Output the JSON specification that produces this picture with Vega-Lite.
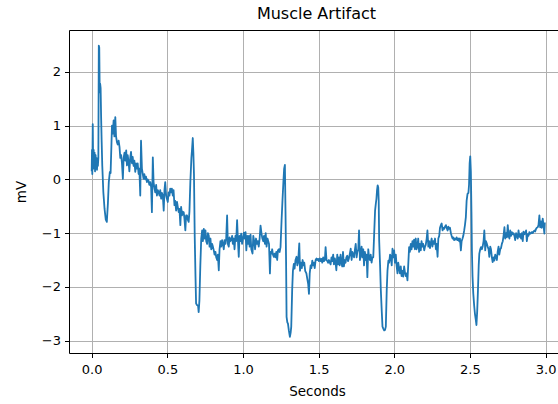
{
  "$schema": "https://vega.github.io/schema/vega-lite/v6.json",
  "autosize": {"type": "none"},
  "padding": {"left": 69, "top": 30, "right": 0, "bottom": 51},
  "width": 489,
  "height": 323,
  "background": "white",
  "title": {"text": "Muscle Artifact", "font": "DejaVu Sans", "fontSize": 16, "fontWeight": "normal", "color": "black", "offset": 8, "dx": 3},
  "config": {
    "view": {"stroke": null},
    "axis": {"labelFont": "DejaVu Sans", "labelFontSize": 13, "labelColor": "black", "titleFont": "DejaVu Sans", "titleFontSize": 13.5, "titleFontWeight": "normal", "titleColor": "black", "tickColor": "black", "tickSize": 4.5, "tickWidth": 1, "domainColor": "black", "domainWidth": 1, "gridColor": "#b0b0b0", "gridWidth": 1, "labelPadding": 4}
  },
  "data": {"values": [
{"t":0.000,"v":0.15},{"t":0.002,"v":0.55},{"t":0.004,"v":0.10},{"t":0.007,"v":1.03},{"t":0.010,"v":0.20},{"t":0.013,"v":0.55},{"t":0.016,"v":0.25},{"t":0.019,"v":0.50},{"t":0.022,"v":0.15},{"t":0.026,"v":0.45},{"t":0.029,"v":0.20},{"t":0.032,"v":0.40},{"t":0.035,"v":0.18},{"t":0.038,"v":0.35},{"t":0.041,"v":0.25},{"t":0.044,"v":0.40},{"t":0.047,"v":2.49},{"t":0.050,"v":2.45},{"t":0.053,"v":1.62},{"t":0.056,"v":1.78},{"t":0.059,"v":1.70},{"t":0.062,"v":1.20},{"t":0.066,"v":0.69},{"t":0.070,"v":0.25},{"t":0.077,"v":-0.24},{"t":0.085,"v":-0.55},{"t":0.093,"v":-0.75},{"t":0.100,"v":-0.79},{"t":0.107,"v":-0.45},{"t":0.113,"v":-0.05},{"t":0.120,"v":0.14},{"t":0.125,"v":0.12},{"t":0.130,"v":0.60},{"t":0.134,"v":1.00},{"t":0.139,"v":0.85},{"t":0.145,"v":1.10},{"t":0.150,"v":0.80},{"t":0.156,"v":1.16},{"t":0.161,"v":0.80},{"t":0.167,"v":0.69},{"t":0.172,"v":0.65},{"t":0.178,"v":0.72},{"t":0.184,"v":0.60},{"t":0.189,"v":0.40},{"t":0.195,"v":0.45},{"t":0.200,"v":0.30},{"t":0.206,"v":0.01},{"t":0.211,"v":0.40},{"t":0.217,"v":0.50},{"t":0.222,"v":0.35},{"t":0.228,"v":0.54},{"t":0.233,"v":0.26},{"t":0.238,"v":0.45},{"t":0.244,"v":0.32},{"t":0.249,"v":0.15},{"t":0.255,"v":0.41},{"t":0.260,"v":0.51},{"t":0.266,"v":0.30},{"t":0.271,"v":0.42},{"t":0.277,"v":0.25},{"t":0.282,"v":0.35},{"t":0.288,"v":0.14},{"t":0.293,"v":0.30},{"t":0.299,"v":0.20},{"t":0.304,"v":0.30},{"t":0.310,"v":0.10},{"t":0.315,"v":0.20},{"t":0.321,"v":-0.30},{"t":0.326,"v":0.72},{"t":0.332,"v":0.20},{"t":0.337,"v":0.11},{"t":0.343,"v":0.01},{"t":0.348,"v":0.10},{"t":0.354,"v":0.00},{"t":0.359,"v":0.05},{"t":0.365,"v":-0.05},{"t":0.370,"v":0.00},{"t":0.376,"v":-0.03},{"t":0.381,"v":-0.10},{"t":0.387,"v":-0.05},{"t":0.393,"v":-0.15},{"t":0.398,"v":-0.61},{"t":0.404,"v":0.41},{"t":0.409,"v":-0.05},{"t":0.415,"v":-0.17},{"t":0.420,"v":-0.24},{"t":0.426,"v":-0.10},{"t":0.431,"v":-0.30},{"t":0.437,"v":-0.20},{"t":0.442,"v":-0.24},{"t":0.448,"v":-0.30},{"t":0.453,"v":-0.20},{"t":0.459,"v":-0.36},{"t":0.464,"v":-0.25},{"t":0.470,"v":-0.30},{"t":0.476,"v":-0.58},{"t":0.481,"v":-0.20},{"t":0.486,"v":-0.05},{"t":0.492,"v":-0.30},{"t":0.497,"v":-0.36},{"t":0.503,"v":-0.42},{"t":0.508,"v":-0.24},{"t":0.514,"v":-0.30},{"t":0.519,"v":-0.17},{"t":0.525,"v":-0.24},{"t":0.530,"v":-0.17},{"t":0.536,"v":-0.30},{"t":0.541,"v":-0.20},{"t":0.547,"v":-0.48},{"t":0.552,"v":-0.40},{"t":0.558,"v":-0.58},{"t":0.564,"v":-0.42},{"t":0.569,"v":-0.51},{"t":0.575,"v":-0.61},{"t":0.580,"v":-0.55},{"t":0.586,"v":-0.85},{"t":0.591,"v":-0.51},{"t":0.597,"v":-0.67},{"t":0.602,"v":-0.60},{"t":0.608,"v":-0.61},{"t":0.613,"v":-0.73},{"t":0.619,"v":-0.95},{"t":0.624,"v":-0.67},{"t":0.630,"v":-0.67},{"t":0.635,"v":-0.75},{"t":0.641,"v":-0.79},{"t":0.646,"v":-0.60},{"t":0.652,"v":-0.05},{"t":0.659,"v":0.40},{"t":0.663,"v":0.55},{"t":0.668,"v":0.77},{"t":0.672,"v":0.50},{"t":0.676,"v":0.10},{"t":0.681,"v":-1.07},{"t":0.686,"v":-1.80},{"t":0.690,"v":-2.31},{"t":0.697,"v":-2.34},{"t":0.703,"v":-2.35},{"t":0.707,"v":-2.47},{"t":0.712,"v":-2.25},{"t":0.718,"v":-1.60},{"t":0.724,"v":-1.10},{"t":0.730,"v":-0.95},{"t":0.735,"v":-1.15},{"t":0.741,"v":-0.92},{"t":0.746,"v":-1.10},{"t":0.752,"v":-0.95},{"t":0.757,"v":-1.15},{"t":0.763,"v":-1.20},{"t":0.768,"v":-1.00},{"t":0.774,"v":-1.05},{"t":0.779,"v":-1.25},{"t":0.785,"v":-1.10},{"t":0.790,"v":-1.30},{"t":0.796,"v":-1.20},{"t":0.801,"v":-1.25},{"t":0.807,"v":-1.32},{"t":0.812,"v":-1.40},{"t":0.818,"v":-1.35},{"t":0.823,"v":-1.45},{"t":0.829,"v":-1.50},{"t":0.834,"v":-1.40},{"t":0.840,"v":-1.69},{"t":0.845,"v":-1.30},{"t":0.851,"v":-1.15},{"t":0.856,"v":-1.25},{"t":0.862,"v":-1.13},{"t":0.867,"v":-1.20},{"t":0.873,"v":-1.30},{"t":0.878,"v":-1.13},{"t":0.884,"v":-1.20},{"t":0.889,"v":-1.10},{"t":0.895,"v":-0.67},{"t":0.900,"v":-1.20},{"t":0.906,"v":-1.25},{"t":0.911,"v":-1.08},{"t":0.917,"v":-1.15},{"t":0.922,"v":-1.12},{"t":0.928,"v":-1.05},{"t":0.933,"v":-1.20},{"t":0.939,"v":-1.10},{"t":0.944,"v":-1.30},{"t":0.950,"v":-1.05},{"t":0.955,"v":-1.15},{"t":0.961,"v":-0.76},{"t":0.966,"v":-1.10},{"t":0.972,"v":-1.44},{"t":0.977,"v":-1.05},{"t":0.983,"v":-1.15},{"t":0.988,"v":-1.01},{"t":0.994,"v":-1.20},{"t":1.000,"v":-1.10},{"t":1.006,"v":-0.99},{"t":1.011,"v":-1.10},{"t":1.017,"v":-0.98},{"t":1.022,"v":-1.32},{"t":1.028,"v":-1.05},{"t":1.033,"v":-1.20},{"t":1.039,"v":-1.05},{"t":1.044,"v":-1.25},{"t":1.050,"v":-1.03},{"t":1.055,"v":-1.30},{"t":1.063,"v":-1.38},{"t":1.068,"v":-1.05},{"t":1.074,"v":-1.15},{"t":1.080,"v":-1.30},{"t":1.086,"v":-1.10},{"t":1.092,"v":-1.20},{"t":1.098,"v":-1.15},{"t":1.104,"v":-1.25},{"t":1.110,"v":-1.10},{"t":1.116,"v":-0.86},{"t":1.122,"v":-1.00},{"t":1.128,"v":-1.10},{"t":1.134,"v":-1.15},{"t":1.139,"v":-1.05},{"t":1.145,"v":-1.20},{"t":1.150,"v":-1.00},{"t":1.156,"v":-1.25},{"t":1.162,"v":-1.10},{"t":1.167,"v":-1.15},{"t":1.172,"v":-1.20},{"t":1.178,"v":-1.75},{"t":1.183,"v":-1.35},{"t":1.188,"v":-1.38},{"t":1.193,"v":-1.30},{"t":1.198,"v":-1.40},{"t":1.204,"v":-1.44},{"t":1.209,"v":-1.38},{"t":1.215,"v":-1.45},{"t":1.220,"v":-1.35},{"t":1.226,"v":-1.50},{"t":1.231,"v":-1.32},{"t":1.237,"v":-1.30},{"t":1.242,"v":-1.35},{"t":1.248,"v":-1.26},{"t":1.255,"v":-0.76},{"t":1.261,"v":-0.39},{"t":1.267,"v":-0.05},{"t":1.272,"v":0.20},{"t":1.277,"v":0.27},{"t":1.281,"v":-0.60},{"t":1.285,"v":-1.60},{"t":1.288,"v":-2.56},{"t":1.293,"v":-2.66},{"t":1.297,"v":-2.68},{"t":1.303,"v":-2.81},{"t":1.310,"v":-2.93},{"t":1.315,"v":-2.85},{"t":1.319,"v":-2.74},{"t":1.325,"v":-2.06},{"t":1.330,"v":-1.70},{"t":1.336,"v":-1.57},{"t":1.341,"v":-1.66},{"t":1.347,"v":-1.50},{"t":1.354,"v":-1.44},{"t":1.359,"v":-1.60},{"t":1.364,"v":-1.55},{"t":1.372,"v":-1.19},{"t":1.377,"v":-1.70},{"t":1.383,"v":-1.55},{"t":1.389,"v":-1.65},{"t":1.394,"v":-1.50},{"t":1.400,"v":-1.60},{"t":1.405,"v":-1.55},{"t":1.411,"v":-1.70},{"t":1.419,"v":-1.75},{"t":1.425,"v":-1.85},{"t":1.431,"v":-1.95},{"t":1.436,"v":-2.13},{"t":1.441,"v":-1.75},{"t":1.447,"v":-1.60},{"t":1.452,"v":-1.65},{"t":1.458,"v":-1.51},{"t":1.463,"v":-1.60},{"t":1.469,"v":-1.55},{"t":1.474,"v":-1.65},{"t":1.480,"v":-1.50},{"t":1.486,"v":-1.47},{"t":1.491,"v":-1.50},{"t":1.497,"v":-1.48},{"t":1.502,"v":-1.52},{"t":1.508,"v":-1.47},{"t":1.513,"v":-1.52},{"t":1.519,"v":-1.48},{"t":1.524,"v":-1.55},{"t":1.530,"v":-1.45},{"t":1.535,"v":-1.52},{"t":1.541,"v":-1.50},{"t":1.546,"v":-1.26},{"t":1.552,"v":-1.50},{"t":1.557,"v":-1.52},{"t":1.563,"v":-1.55},{"t":1.568,"v":-1.50},{"t":1.574,"v":-1.55},{"t":1.579,"v":-1.58},{"t":1.585,"v":-1.45},{"t":1.590,"v":-1.52},{"t":1.596,"v":-1.40},{"t":1.601,"v":-1.58},{"t":1.607,"v":-1.47},{"t":1.612,"v":-1.55},{"t":1.617,"v":-1.69},{"t":1.623,"v":-1.40},{"t":1.628,"v":-1.58},{"t":1.634,"v":-1.45},{"t":1.639,"v":-1.60},{"t":1.645,"v":-1.40},{"t":1.650,"v":-1.55},{"t":1.656,"v":-1.62},{"t":1.661,"v":-1.35},{"t":1.667,"v":-1.62},{"t":1.672,"v":-1.50},{"t":1.678,"v":-1.55},{"t":1.683,"v":-1.45},{"t":1.689,"v":-1.42},{"t":1.694,"v":-1.52},{"t":1.700,"v":-1.47},{"t":1.705,"v":-1.40},{"t":1.712,"v":-1.29},{"t":1.718,"v":-1.50},{"t":1.723,"v":-1.35},{"t":1.729,"v":-1.40},{"t":1.734,"v":-1.45},{"t":1.740,"v":-1.30},{"t":1.745,"v":-1.20},{"t":1.751,"v":-1.45},{"t":1.756,"v":-1.35},{"t":1.762,"v":-1.30},{"t":1.767,"v":-0.95},{"t":1.773,"v":-1.50},{"t":1.778,"v":-1.40},{"t":1.784,"v":-1.25},{"t":1.789,"v":-1.45},{"t":1.795,"v":-1.30},{"t":1.800,"v":-1.60},{"t":1.806,"v":-1.35},{"t":1.811,"v":-1.50},{"t":1.817,"v":-1.40},{"t":1.822,"v":-1.82},{"t":1.828,"v":-1.30},{"t":1.833,"v":-1.45},{"t":1.839,"v":-1.50},{"t":1.844,"v":-1.40},{"t":1.850,"v":-1.55},{"t":1.855,"v":-1.45},{"t":1.861,"v":-1.45},{"t":1.867,"v":-1.01},{"t":1.873,"v":-0.58},{"t":1.878,"v":-0.45},{"t":1.882,"v":-0.36},{"t":1.886,"v":-0.20},{"t":1.890,"v":-0.11},{"t":1.894,"v":-0.15},{"t":1.897,"v":-0.40},{"t":1.900,"v":-1.13},{"t":1.906,"v":-1.60},{"t":1.911,"v":-2.06},{"t":1.917,"v":-2.45},{"t":1.922,"v":-2.74},{"t":1.928,"v":-2.78},{"t":1.933,"v":-2.81},{"t":1.939,"v":-2.80},{"t":1.944,"v":-2.74},{"t":1.950,"v":-2.06},{"t":1.955,"v":-1.70},{"t":1.961,"v":-1.51},{"t":1.966,"v":-1.55},{"t":1.972,"v":-1.40},{"t":1.977,"v":-1.44},{"t":1.983,"v":-1.60},{"t":1.988,"v":-1.29},{"t":1.992,"v":-1.45},{"t":1.999,"v":-1.32},{"t":2.004,"v":-1.55},{"t":2.010,"v":-1.40},{"t":2.015,"v":-1.60},{"t":2.021,"v":-1.75},{"t":2.026,"v":-1.55},{"t":2.032,"v":-1.65},{"t":2.037,"v":-1.75},{"t":2.043,"v":-1.62},{"t":2.048,"v":-1.80},{"t":2.054,"v":-1.70},{"t":2.059,"v":-1.81},{"t":2.065,"v":-1.62},{"t":2.070,"v":-1.72},{"t":2.076,"v":-1.80},{"t":2.081,"v":-1.75},{"t":2.087,"v":-1.88},{"t":2.092,"v":-1.60},{"t":2.098,"v":-1.26},{"t":2.103,"v":-1.35},{"t":2.109,"v":-1.20},{"t":2.114,"v":-1.30},{"t":2.120,"v":-1.15},{"t":2.125,"v":-1.25},{"t":2.131,"v":-1.12},{"t":2.136,"v":-1.30},{"t":2.142,"v":-1.10},{"t":2.147,"v":-1.30},{"t":2.153,"v":-1.25},{"t":2.158,"v":-1.10},{"t":2.164,"v":-1.35},{"t":2.169,"v":-1.20},{"t":2.175,"v":-1.32},{"t":2.180,"v":-1.15},{"t":2.186,"v":-1.25},{"t":2.191,"v":-1.20},{"t":2.198,"v":-1.32},{"t":2.203,"v":-1.25},{"t":2.208,"v":-1.22},{"t":2.214,"v":-1.10},{"t":2.219,"v":-0.95},{"t":2.225,"v":-1.25},{"t":2.230,"v":-1.15},{"t":2.236,"v":-1.28},{"t":2.241,"v":-1.18},{"t":2.247,"v":-1.10},{"t":2.252,"v":-1.25},{"t":2.258,"v":-1.15},{"t":2.263,"v":-1.20},{"t":2.269,"v":-1.10},{"t":2.275,"v":-1.30},{"t":2.280,"v":-1.20},{"t":2.286,"v":-1.44},{"t":2.291,"v":-1.10},{"t":2.297,"v":-1.05},{"t":2.302,"v":-0.90},{"t":2.308,"v":-0.85},{"t":2.313,"v":-0.82},{"t":2.319,"v":-0.95},{"t":2.324,"v":-0.90},{"t":2.330,"v":-0.92},{"t":2.335,"v":-0.88},{"t":2.341,"v":-0.85},{"t":2.346,"v":-0.90},{"t":2.352,"v":-0.95},{"t":2.357,"v":-0.88},{"t":2.363,"v":-0.92},{"t":2.368,"v":-0.90},{"t":2.374,"v":-1.00},{"t":2.379,"v":-1.05},{"t":2.385,"v":-1.10},{"t":2.390,"v":-1.08},{"t":2.396,"v":-1.13},{"t":2.401,"v":-1.10},{"t":2.407,"v":-1.12},{"t":2.412,"v":-1.08},{"t":2.418,"v":-1.13},{"t":2.423,"v":-1.10},{"t":2.429,"v":-1.15},{"t":2.434,"v":-1.10},{"t":2.440,"v":-1.32},{"t":2.445,"v":-1.15},{"t":2.451,"v":-1.10},{"t":2.456,"v":-1.05},{"t":2.462,"v":-0.95},{"t":2.467,"v":-0.85},{"t":2.473,"v":-0.70},{"t":2.478,"v":-0.40},{"t":2.484,"v":-0.27},{"t":2.490,"v":-0.25},{"t":2.494,"v":-0.10},{"t":2.498,"v":0.30},{"t":2.502,"v":0.43},{"t":2.506,"v":0.15},{"t":2.510,"v":-0.60},{"t":2.513,"v":-1.32},{"t":2.517,"v":-1.80},{"t":2.522,"v":-2.12},{"t":2.528,"v":-2.35},{"t":2.533,"v":-2.50},{"t":2.538,"v":-2.60},{"t":2.543,"v":-2.71},{"t":2.548,"v":-2.45},{"t":2.553,"v":-2.06},{"t":2.558,"v":-1.60},{"t":2.562,"v":-1.38},{"t":2.568,"v":-1.30},{"t":2.573,"v":-1.26},{"t":2.579,"v":-1.30},{"t":2.584,"v":-1.25},{"t":2.590,"v":-1.15},{"t":2.595,"v":-0.95},{"t":2.601,"v":-1.32},{"t":2.606,"v":-1.15},{"t":2.612,"v":-1.20},{"t":2.617,"v":-1.25},{"t":2.623,"v":-1.30},{"t":2.628,"v":-1.44},{"t":2.634,"v":-1.25},{"t":2.639,"v":-1.30},{"t":2.645,"v":-1.45},{"t":2.650,"v":-1.54},{"t":2.656,"v":-1.45},{"t":2.661,"v":-1.51},{"t":2.667,"v":-1.40},{"t":2.672,"v":-1.44},{"t":2.678,"v":-1.50},{"t":2.683,"v":-1.35},{"t":2.689,"v":-1.25},{"t":2.694,"v":-1.40},{"t":2.700,"v":-1.30},{"t":2.705,"v":-1.28},{"t":2.711,"v":-1.20},{"t":2.717,"v":-1.15},{"t":2.722,"v":-1.05},{"t":2.728,"v":-0.89},{"t":2.733,"v":-1.10},{"t":2.739,"v":-1.00},{"t":2.744,"v":-1.08},{"t":2.750,"v":-0.85},{"t":2.755,"v":-1.05},{"t":2.761,"v":-1.10},{"t":2.766,"v":-0.95},{"t":2.772,"v":-1.05},{"t":2.777,"v":-0.98},{"t":2.783,"v":-1.02},{"t":2.788,"v":-1.00},{"t":2.794,"v":-1.05},{"t":2.799,"v":-1.13},{"t":2.805,"v":-1.00},{"t":2.810,"v":-1.05},{"t":2.816,"v":-1.10},{"t":2.821,"v":-0.95},{"t":2.827,"v":-1.07},{"t":2.832,"v":-1.02},{"t":2.838,"v":-1.10},{"t":2.843,"v":-1.00},{"t":2.849,"v":-1.15},{"t":2.854,"v":-0.97},{"t":2.860,"v":-1.02},{"t":2.865,"v":-1.00},{"t":2.871,"v":-0.95},{"t":2.876,"v":-1.15},{"t":2.882,"v":-1.02},{"t":2.887,"v":-1.05},{"t":2.893,"v":-0.98},{"t":2.898,"v":-1.01},{"t":2.904,"v":-1.00},{"t":2.909,"v":-0.98},{"t":2.915,"v":-1.00},{"t":2.920,"v":-0.97},{"t":2.926,"v":-0.95},{"t":2.931,"v":-0.97},{"t":2.937,"v":-0.92},{"t":2.942,"v":-0.90},{"t":2.948,"v":-0.89},{"t":2.953,"v":-0.85},{"t":2.959,"v":-0.67},{"t":2.964,"v":-0.89},{"t":2.970,"v":-0.78},{"t":2.975,"v":-0.90},{"t":2.981,"v":-0.73},{"t":2.986,"v":-0.85},{"t":2.992,"v":-1.01},{"t":2.995,"v":-0.80}
  ]},
  "layer": [
    {
      "mark": {"type": "line", "color": "#1f77b4", "strokeWidth": 1.8, "strokeJoin": "round"},
      "encoding": {
        "x": {"field": "t", "type": "quantitative", "scale": {"domain": [-0.15, 3.082], "nice": false, "zero": false},
              "axis": {"orient": "bottom", "values": [0, 0.5, 1, 1.5, 2, 2.5, 3], "format": ".1f", "title": "Seconds", "labelPadding": 6, "titlePadding": 8, "titleX": 248, "grid": true}},
        "y": {"field": "v", "type": "quantitative", "scale": {"domain": [-3.23, 2.78], "nice": false, "zero": false},
              "axis": {"orient": "left", "values": [-3, -2, -1, 0, 1, 2], "format": "d", "title": "mV", "titlePadding": 13, "grid": true}}
      }
    },
    {
      "mark": {"type": "line", "strokeOpacity": 0},
      "encoding": {
        "x": {"field": "t", "type": "quantitative", "axis": {"orient": "top", "labels": false, "ticks": false, "grid": false, "title": null, "domain": true}},
        "y": {"field": "v", "type": "quantitative",
              "axis": {"orient": "left", "values": [-3, -2, -1, 0, 1, 2], "format": "d", "title": "mV", "titlePadding": 13, "grid": true}}
      }
    }
  ],
  "resolve": {"axis": {"x": "independent"}}
}
